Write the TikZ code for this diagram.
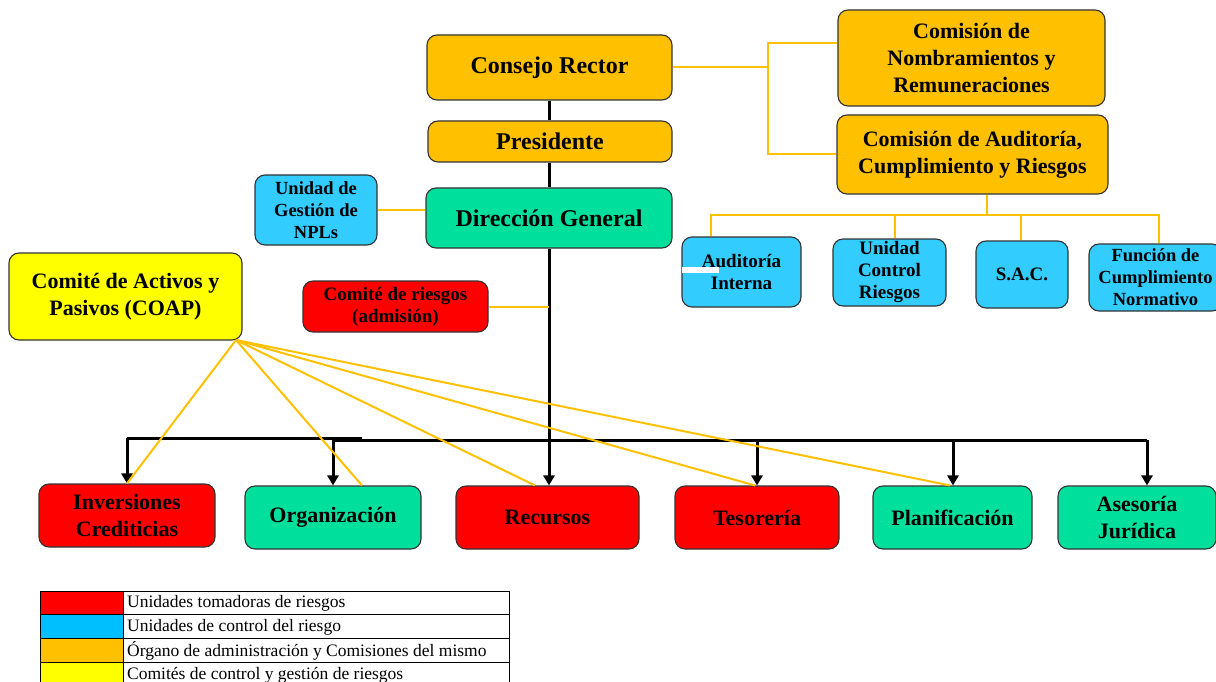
\documentclass[tikz,border=0pt]{standalone}
\usepackage{fontspec}
\setmainfont{Liberation Serif}
\usetikzlibrary{arrows.meta}
\definecolor{cgold}{HTML}{FFC000}
\definecolor{cgreen}{HTML}{00E09C}
\definecolor{cred}{HTML}{FF0000}
\definecolor{cblue}{HTML}{33CCFF}
\definecolor{cyel}{HTML}{FFFF00}
\definecolor{lblue}{HTML}{00BFFF}
\definecolor{bord}{HTML}{333333}
\tikzset{
  box/.style={draw=bord, line width=1.1pt, rounded corners=10pt, align=center, inner sep=0pt, font=\bfseries\fontsize{22}{27}\selectfont},
  bigf/.style={font=\bfseries\fontsize{24}{29}\selectfont},
  midf/.style={font=\bfseries\fontsize{19}{22}\selectfont},
  smf/.style={font=\bfseries\fontsize{18.5}{22}\selectfont},
  blk/.style={line width=3pt, black},
  arr/.style={line width=3pt, black, -{Triangle[length=10pt,width=11pt]}},
  gl/.style={line width=2pt, cgold},
  leg/.style={font=\fontsize{17.5}{20}\selectfont, anchor=west, inner sep=0pt}
}
\begin{document}
\begin{tikzpicture}[x=1pt,y=-1pt]
\useasboundingbox (0,0) rectangle (1216,682);
% nodes
\node[box,bigf,fill=cgold,minimum width=245pt,minimum height=65pt] (cr) at (549.5,67.5) {Consejo Rector};
\node[box,bigf,fill=cgold,minimum width=244pt,minimum height=41pt] (pres) at (550,141.5) {Presidente};
\node[box,bigf,fill=cgreen,minimum width=246pt,minimum height=60pt] (dg) at (549,218) {Dirección General};
\node[box,fill=cgold,minimum width=267pt,minimum height=96pt] (cnr) at (971.5,58) {Comisión de\\Nombramientos y\\Remuneraciones};
\node[box,fill=cgold,minimum width=271pt,minimum height=79pt] (cacr) at (972.5,154.5) {Comisión de Auditoría,\\Cumplimiento y Riesgos};
\node[box,smf,fill=cblue,minimum width=122pt,minimum height=70pt] (npl) at (316,210) {Unidad de\\Gestión de\\NPLs};
\node[box,fill=cyel,minimum width=233pt,minimum height=87pt] (coap) at (125.5,296.5) {Comité de Activos y\\Pasivos (COAP)};
\node[box,midf,fill=cred,minimum width=185pt,minimum height=51pt] (cri) at (395.5,306.5) {Comité de riesgos\\(admisión)};
\node[box,midf,fill=cblue,minimum width=119pt,minimum height=70pt] (ai) at (741.5,272) {Auditoría\\Interna};
\node[box,midf,fill=cblue,minimum width=113pt,minimum height=67pt] (ucr) at (889.5,272.5) {Unidad\\Control\\Riesgos};
\node[box,midf,fill=cblue,minimum width=92pt,minimum height=67pt] (sac) at (1022,274.5) {S.A.C.};
\node[box,smf,fill=cblue,minimum width=133pt,minimum height=67pt] (fcn) at (1155.5,277.5) {Función de\\Cumplimiento\\Normativo};
\node[box,fill=cred,minimum width=176pt,minimum height=63pt] (inv) at (127,515.5) {Inversiones\\Crediticias};
\node[box,fill=cgreen,minimum width=176pt,minimum height=63pt] (org) at (333,517.5) {Organización};
\node[box,fill=cred,minimum width=183pt,minimum height=63pt] (rec) at (547.5,517.5) {Recursos};
\node[box,fill=cred,minimum width=164pt,minimum height=63pt] (tes) at (757,517.5) {Tesorería};
\node[box,fill=cgreen,minimum width=159pt,minimum height=63pt] (pla) at (952.5,517.5) {Planificación};
\node[box,fill=cgreen,minimum width=158pt,minimum height=63pt] (ase) at (1137,517.5) {Asesoría\\Jurídica};
% white mark
\fill[white] (682,267) rectangle (719,273);
% coordinates
\coordinate (sp) at (549,0);
\coordinate (gx) at (768,0);
\coordinate (hb) at (0,440);
\coordinate (hb2) at (0,438);
\coordinate (x1) at (127,0);
\coordinate (x2) at (333,0);
\coordinate (x4) at (757,0);
\coordinate (x5) at (953,0);
\coordinate (x6) at (1147,0);
\coordinate (c0) at (236,340);
\coordinate (gy) at (0,215);
% black spine
\draw[blk] (sp |- cr.south) -- (sp |- pres.north);
\draw[blk] (sp |- pres.south) -- (sp |- dg.north);
\draw[arr] (sp |- dg.south) -- (sp |- rec.north);
\draw[blk] (x1 |- hb2) -- (362,438);
\draw[blk] (x2 |- hb) -- (x6 |- hb);
\draw[arr] (x1 |- hb2) -- (x1 |- inv.north);
\draw[arr] (x2 |- hb) -- (x2 |- org.north);
\draw[arr] (x4 |- hb) -- (x4 |- tes.north);
\draw[arr] (x5 |- hb) -- (x5 |- pla.north);
\draw[arr] (x6 |- hb) -- (x6 |- ase.north);
% gold connectors
\draw[gl] (cr.east) -- (gx |- cr.east);
\draw[gl] (cnr.west |- 0,43) -| (gx |- cacr.west) -- (cacr.west);
\draw[gl] (npl.east) -- (dg.west |- npl.east);
\draw[gl] (cri.east) -- (sp |- cri.east);
\draw[gl] (987,0 |- cacr.south) -- (987,215);
\draw[gl] (711,0 |- ai.north) |- (1159,215) -- (1159,0 |- fcn.north);
\draw[gl] (895,215) -- (895,0 |- ucr.north);
\draw[gl] (1021,215) -- (1021,0 |- sac.north);
\draw[gl] (c0) -- (inv.north);
\draw[gl] (c0) -- (362,0 |- org.north);
\draw[gl] (c0) -- (535,0 |- rec.north);
\draw[gl] (c0) -- (755,0 |- tes.north);
\draw[gl] (c0) -- (950,0 |- pla.north);
% legend
\fill[cred] (40,591) rectangle (123,614);
\fill[lblue] (40,614) rectangle (123,638);
\fill[cgold] (40,638) rectangle (123,662);
\fill[cyel] (40,662) rectangle (123,690);
\draw[line width=1pt] (40,690) -- (40,591) -- (509,591) -- (509,690);
\draw[line width=1pt] (40,614) -- (509,614);
\draw[line width=1pt] (40,638) -- (509,638);
\draw[line width=1pt] (40,662) -- (509,662);
\draw[line width=1pt] (123,591) -- (123,690);
\node[leg] (l1) at (127,603) {Unidades tomadoras de riesgos};
\node[leg] (l2) at (127,627) {Unidades de control del riesgo};
\node[leg] (l3) at (127,651) {Órgano de administración y Comisiones del mismo};
\node[leg] (l4) at (127,675) {Comités de control y gestión de riesgos};
\end{tikzpicture}
\end{document}
